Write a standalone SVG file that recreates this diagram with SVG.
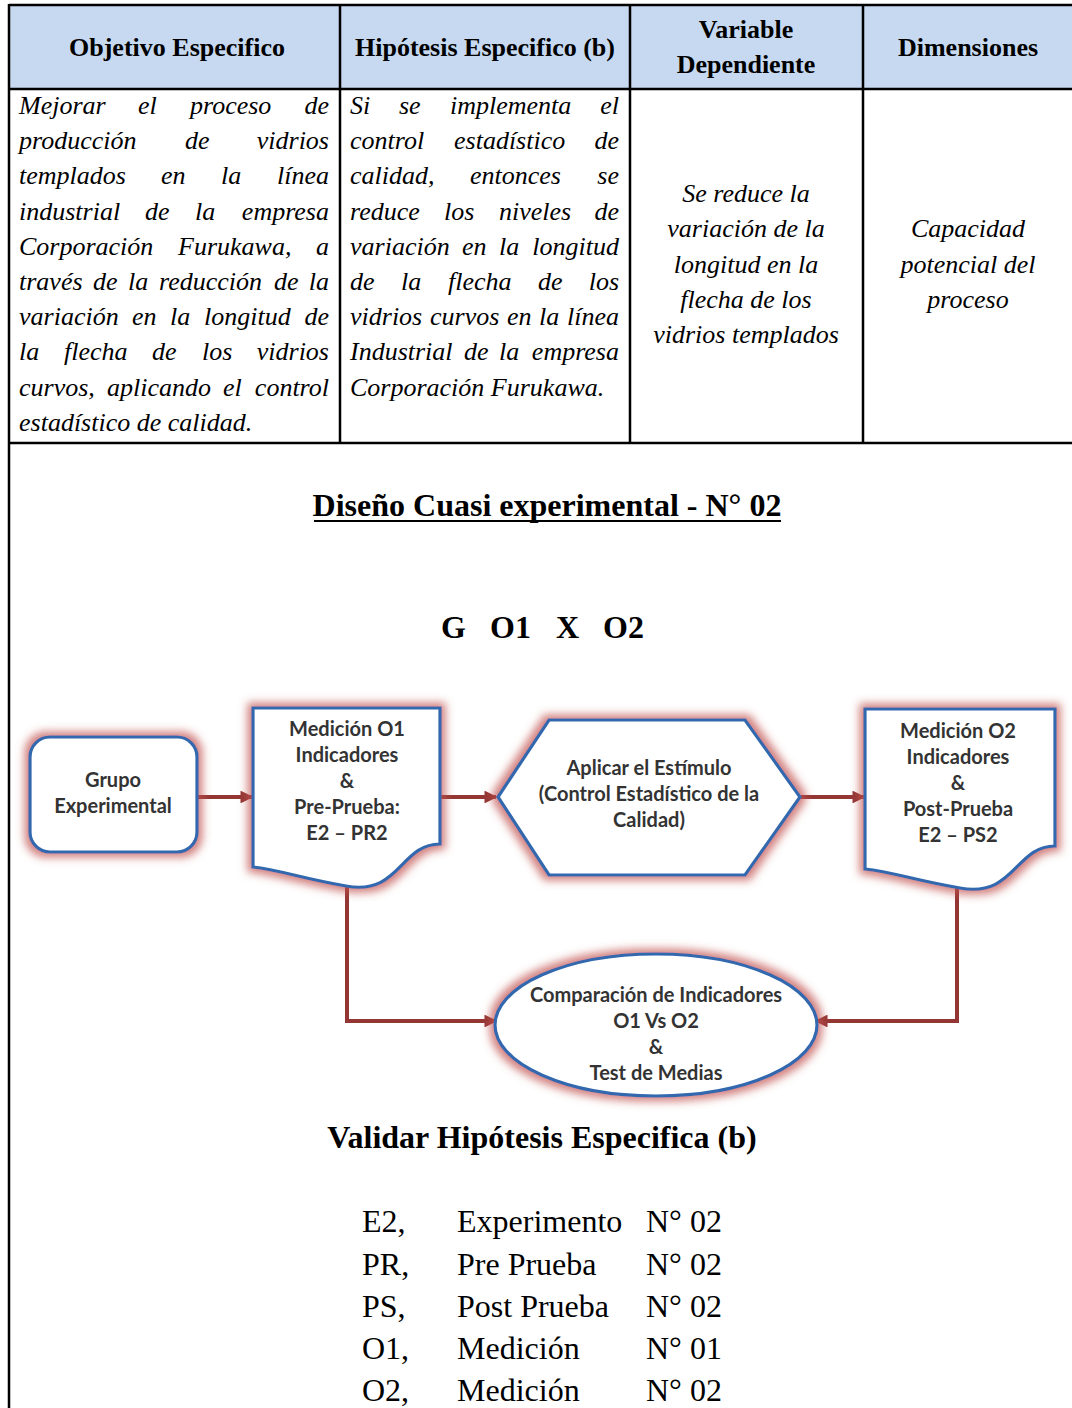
<svg xmlns="http://www.w3.org/2000/svg" width="1072" height="1408" viewBox="0 0 1072 1408">
  <style>
    .hdr { font-family: "Liberation Serif", "Times New Roman", serif; font-weight: bold; font-size: 26px; fill: #000; text-anchor: middle; }
    .body { font-family: "Liberation Serif", "Times New Roman", serif; font-style: italic; font-size: 26px; fill: #000; }
    .end { text-anchor: end; }
    .mid { text-anchor: middle; }
    .title { font-family: "Liberation Serif", "Times New Roman", serif; font-weight: bold; font-size: 32px; fill: #000; }
    .leg { font-family: "Liberation Serif", "Times New Roman", serif; font-size: 32px; fill: #000; }
    .grid { stroke: #000; stroke-width: 2.5; fill: none; }
    .node { fill: #ffffff; stroke: #3268ad; stroke-width: 3.2; }
    .ntext { font-family: Lato, "Open Sans", "Liberation Sans", sans-serif; font-weight: bold; font-size: 20px; fill: #333333; text-anchor: middle; }
    .conn { fill: none; stroke: #943634; stroke-width: 4; stroke-linejoin: miter; }
  </style>
  <defs>
    <filter id="glow" x="-25%" y="-25%" width="150%" height="150%">
      <feMorphology in="SourceAlpha" operator="dilate" radius="4" result="grown"/>
      <feGaussianBlur in="grown" stdDeviation="4.5" result="soft"/>
      <feFlood flood-color="#c0504d" flood-opacity="0.72"/>
      <feComposite in2="soft" operator="in" result="halo"/>
      <feMerge>
        <feMergeNode in="halo"/>
        <feMergeNode in="SourceGraphic"/>
      </feMerge>
    </filter>
    <marker id="arrow" viewBox="0 0 10 10" refX="9" refY="5" markerWidth="3.2" markerHeight="3.2" orient="auto" markerUnits="strokeWidth">
      <path d="M0,0 L10,5 L0,10 Z" fill="#943634"/>
    </marker>
  </defs>

  <rect width="1072" height="1408" fill="#ffffff"/>

  <!-- table header band -->
  <rect x="9" y="5" width="1063" height="84" fill="#c6d9f1"/>

  <!-- table rules -->
  <g id="table-grid" class="grid">
    <line x1="9" y1="5" x2="1072" y2="5"/>
    <line x1="9" y1="89" x2="1072" y2="89"/>
    <line x1="9" y1="443" x2="1072" y2="443"/>
    <line x1="9" y1="4" x2="9" y2="1408"/>
    <line x1="340" y1="5" x2="340" y2="443"/>
    <line x1="630" y1="5" x2="630" y2="443"/>
    <line x1="863" y1="5" x2="863" y2="443"/>
  </g>

  <!-- header row -->
  <g id="header">
    <text class="hdr" x="177" y="56">Objetivo Especifico</text>
    <text class="hdr" x="485" y="56">Hipótesis Especifico (b)</text>
    <text class="hdr" x="746" y="38">Variable</text>
    <text class="hdr" x="746" y="73">Dependiente</text>
    <text class="hdr" x="968" y="56">Dimensiones</text>
  </g>

  <!-- objetivo (justified) -->
  <g id="objetivo" class="body">
    <text y="114"><tspan x="19">Mejorar</tspan><tspan x="138">el</tspan><tspan x="190">proceso</tspan><tspan x="329" class="end">de</tspan></text>
    <text y="149.2"><tspan x="19">producción</tspan><tspan x="185">de</tspan><tspan x="329" class="end">vidrios</tspan></text>
    <text y="184.4"><tspan x="19">templados</tspan><tspan x="161">en</tspan><tspan x="221">la</tspan><tspan x="329" class="end">línea</tspan></text>
    <text y="219.6"><tspan x="19">industrial</tspan><tspan x="145">de</tspan><tspan x="195">la</tspan><tspan x="329" class="end">empresa</tspan></text>
    <text y="254.8"><tspan x="19">Corporación</tspan><tspan x="178">Furukawa,</tspan><tspan x="329" class="end">a</tspan></text>
    <text y="290"><tspan x="19">través</tspan><tspan x="93">de</tspan><tspan x="128">la</tspan><tspan x="159">reducción</tspan><tspan x="274">de</tspan><tspan x="329" class="end">la</tspan></text>
    <text y="325.2"><tspan x="19">variación</tspan><tspan x="132">en</tspan><tspan x="170">la</tspan><tspan x="204">longitud</tspan><tspan x="329" class="end">de</tspan></text>
    <text y="360.4"><tspan x="19">la</tspan><tspan x="64">flecha</tspan><tspan x="152">de</tspan><tspan x="202">los</tspan><tspan x="329" class="end">vidrios</tspan></text>
    <text y="395.6"><tspan x="19">curvos,</tspan><tspan x="107">aplicando</tspan><tspan x="223">el</tspan><tspan x="329" class="end">control</tspan></text>
    <text y="430.8" x="19">estadístico de calidad.</text>
  </g>

  <!-- hipotesis (justified) -->
  <g id="hipotesis" class="body">
    <text y="114"><tspan x="350">Si</tspan><tspan x="399">se</tspan><tspan x="450">implementa</tspan><tspan x="619" class="end">el</tspan></text>
    <text y="149.2"><tspan x="350">control</tspan><tspan x="454">estadístico</tspan><tspan x="619" class="end">de</tspan></text>
    <text y="184.4"><tspan x="350">calidad,</tspan><tspan x="470">entonces</tspan><tspan x="619" class="end">se</tspan></text>
    <text y="219.6"><tspan x="350">reduce</tspan><tspan x="444">los</tspan><tspan x="499">niveles</tspan><tspan x="619" class="end">de</tspan></text>
    <text y="254.8"><tspan x="350">variación</tspan><tspan x="462">en</tspan><tspan x="499">la</tspan><tspan x="619" class="end">longitud</tspan></text>
    <text y="290"><tspan x="350">de</tspan><tspan x="401">la</tspan><tspan x="448">flecha</tspan><tspan x="538">de</tspan><tspan x="619" class="end">los</tspan></text>
    <text y="325.2"><tspan x="350">vidrios</tspan><tspan x="430">curvos</tspan><tspan x="507">en</tspan><tspan x="539">la</tspan><tspan x="619" class="end">línea</tspan></text>
    <text y="360.4"><tspan x="350">Industrial</tspan><tspan x="464">de</tspan><tspan x="499">la</tspan><tspan x="619" class="end">empresa</tspan></text>
    <text y="395.6" x="350">Corporación Furukawa.</text>
  </g>

  <!-- variable dependiente -->
  <g id="variable" class="body mid">
    <text x="746" y="202">Se reduce la</text>
    <text x="746" y="237">variación de la</text>
    <text x="746" y="273">longitud en la</text>
    <text x="746" y="308">flecha de los</text>
    <text x="746" y="343">vidrios templados</text>
  </g>

  <!-- dimensiones -->
  <g id="dimensiones" class="body mid">
    <text x="968" y="237">Capacidad</text>
    <text x="968" y="273">potencial del</text>
    <text x="968" y="308">proceso</text>
  </g>

  <!-- design headings -->
  <g id="design-title">
    <text class="title mid" x="547" y="516">Diseño Cuasi experimental - N° 02</text>
    <line x1="314" y1="521" x2="781" y2="521" stroke="#000" stroke-width="2.2"/>
  </g>
  <g id="design-formula" class="title">
    <text y="638"><tspan x="441">G</tspan><tspan x="490">O1</tspan><tspan x="556">X</tspan><tspan x="603">O2</tspan></text>
  </g>

  <!-- connectors -->
  <g id="connectors" class="conn">
    <line x1="198" y1="797" x2="252" y2="797" marker-end="url(#arrow)"/>
    <line x1="440" y1="797" x2="496" y2="797" marker-end="url(#arrow)"/>
    <line x1="801" y1="797" x2="864" y2="797" marker-end="url(#arrow)"/>
    <polyline points="347,878 347,1021 496,1021" marker-end="url(#arrow)"/>
    <polyline points="957,870 957,1021 816,1021" marker-end="url(#arrow)"/>
  </g>

  <!-- flowchart nodes -->
  <g id="grupo-experimental">
    <rect class="node" x="30" y="737" width="167" height="115" rx="20" filter="url(#glow)"/>
    <text class="ntext" x="113" y="787">Grupo</text>
    <text class="ntext" x="113" y="813">Experimental</text>
  </g>

  <g id="medicion-o1">
    <path class="node" filter="url(#glow)" d="M253,708 H440 V844 C400,844 400,896 346,886 C300,878 280,870 253,867 Z"/>
    <text class="ntext" x="347" y="736">Medición O1</text>
    <text class="ntext" x="347" y="762">Indicadores</text>
    <text class="ntext" x="347" y="788">&amp;</text>
    <text class="ntext" x="347" y="814">Pre-Prueba:</text>
    <text class="ntext" x="347" y="840">E2 – PR2</text>
  </g>

  <g id="estimulo">
    <polygon class="node" filter="url(#glow)" points="498,797 549,720 745,720 800,797 745,875 549,875"/>
    <text class="ntext" x="649" y="775">Aplicar el Estímulo</text>
    <text class="ntext" x="649" y="801">(Control Estadístico de la</text>
    <text class="ntext" x="649" y="827">Calidad)</text>
  </g>

  <g id="medicion-o2">
    <path class="node" filter="url(#glow)" d="M865,709 H1055 V846 C1015,846 1015,898 960,888 C913,880 893,872 865,869 Z"/>
    <text class="ntext" x="958" y="738">Medición O2</text>
    <text class="ntext" x="958" y="764">Indicadores</text>
    <text class="ntext" x="958" y="790">&amp;</text>
    <text class="ntext" x="958" y="816">Post-Prueba</text>
    <text class="ntext" x="958" y="842">E2 – PS2</text>
  </g>

  <g id="comparacion">
    <ellipse class="node" filter="url(#glow)" cx="656" cy="1025" rx="161" ry="71"/>
    <text class="ntext" x="656" y="1002">Comparación de Indicadores</text>
    <text class="ntext" x="656" y="1028">O1 Vs O2</text>
    <text class="ntext" x="656" y="1054">&amp;</text>
    <text class="ntext" x="656" y="1080">Test de Medias</text>
  </g>

  <!-- validation caption -->
  <text id="validar" class="title mid" x="542" y="1148">Validar Hipótesis Especifica (b)</text>

  <!-- legend -->
  <g id="legend" class="leg">
    <text y="1232"><tspan x="362">E2,</tspan><tspan x="457">Experimento</tspan><tspan x="646">N° 02</tspan></text>
    <text y="1275"><tspan x="362">PR,</tspan><tspan x="457">Pre Prueba</tspan><tspan x="646">N° 02</tspan></text>
    <text y="1317"><tspan x="362">PS,</tspan><tspan x="457">Post Prueba</tspan><tspan x="646">N° 02</tspan></text>
    <text y="1359"><tspan x="362">O1,</tspan><tspan x="457">Medición</tspan><tspan x="646">N° 01</tspan></text>
    <text y="1401"><tspan x="362">O2,</tspan><tspan x="457">Medición</tspan><tspan x="646">N° 02</tspan></text>
  </g>
</svg>
